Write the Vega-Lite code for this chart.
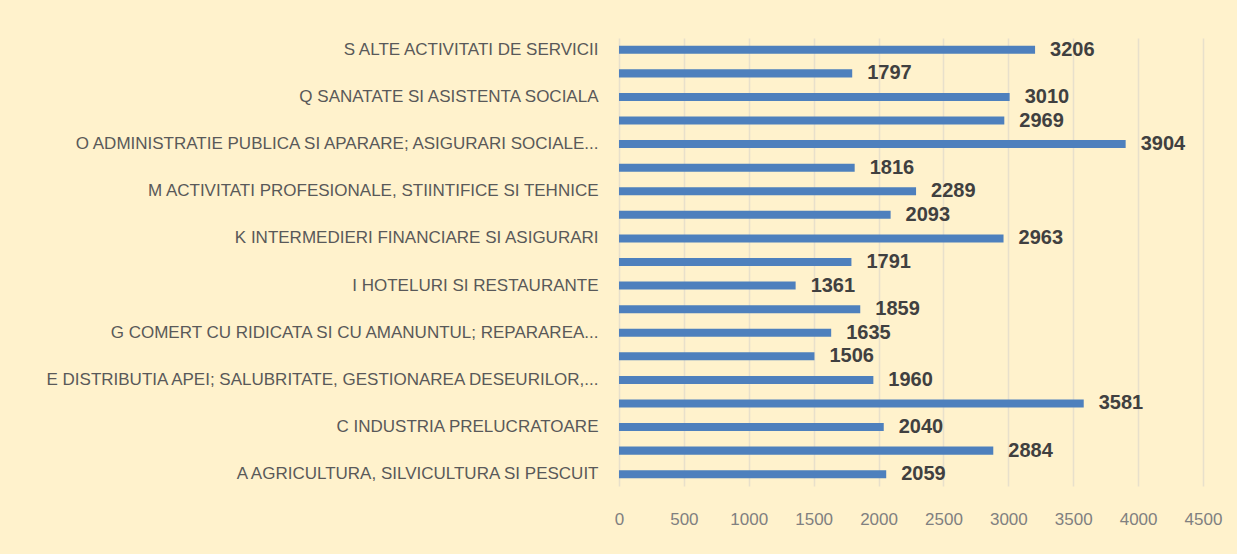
{
  "$schema": "https://vega.github.io/schema/vega-lite/v6.json",
  "autosize": "none",
  "width": 584,
  "height": 448,
  "padding": {"left": 619, "top": 38, "right": 34, "bottom": 68},
  "background": "#FFF2CC",
  "config": {"view": {"stroke": null}},
  "data": {
    "values": [
      {"sector": "S ALTE ACTIVITATI DE SERVICII", "value": 3206},
      {"sector": "R ACTIVITATI DE SPECTACOLE, CULTURALE SI RECREATIVE", "value": 1797},
      {"sector": "Q SANATATE SI ASISTENTA SOCIALA", "value": 3010},
      {"sector": "P INVATAMANT", "value": 2969},
      {"sector": "O ADMINISTRATIE PUBLICA SI APARARE; ASIGURARI SOCIALE...", "value": 3904},
      {"sector": "N ACTIVITATI DE SERVICII ADMINISTRATIVE SI SUPORT", "value": 1816},
      {"sector": "M ACTIVITATI PROFESIONALE, STIINTIFICE SI TEHNICE", "value": 2289},
      {"sector": "L TRANZACTII IMOBILIARE", "value": 2093},
      {"sector": "K INTERMEDIERI FINANCIARE SI ASIGURARI", "value": 2963},
      {"sector": "J INFORMATII SI COMUNICATII", "value": 1791},
      {"sector": "I HOTELURI SI RESTAURANTE", "value": 1361},
      {"sector": "H TRANSPORT SI DEPOZITARE", "value": 1859},
      {"sector": "G COMERT CU RIDICATA SI CU AMANUNTUL; REPARAREA...", "value": 1635},
      {"sector": "F CONSTRUCTII", "value": 1506},
      {"sector": "E DISTRIBUTIA APEI; SALUBRITATE, GESTIONAREA DESEURILOR,...", "value": 1960},
      {"sector": "D PRODUCTIA SI FURNIZAREA DE ENERGIE ELECTRICA SI TERMICA, GAZE...", "value": 3581},
      {"sector": "C INDUSTRIA PRELUCRATOARE", "value": 2040},
      {"sector": "B INDUSTRIA EXTRACTIVA", "value": 2884},
      {"sector": "A AGRICULTURA, SILVICULTURA SI PESCUIT", "value": 2059}
    ]
  },
  "encoding": {
    "y": {
      "field": "sector",
      "type": "nominal",
      "sort": null,
      "scale": {"paddingInner": 0.66, "paddingOuter": 0.33},
      "axis": {
        "title": null,
        "domain": false,
        "ticks": false,
        "labelPadding": 21,
        "labelFont": "Liberation Sans",
        "labelFontSize": 17,
        "labelColor": "#595959",
        "labelLimit": 620,
        "labelExpr": "indexof('SQOMKIGECA', substring(datum.value, 0, 1)) >= 0 ? datum.value : ''"
      }
    },
    "x": {
      "field": "value",
      "type": "quantitative",
      "scale": {"domain": [0, 4500], "nice": false},
      "axis": {
        "title": null,
        "values": [0, 500, 1000, 1500, 2000, 2500, 3000, 3500, 4000, 4500],
        "domain": false,
        "ticks": false,
        "grid": true,
        "gridColor": "#E8E0CB",
        "gridWidth": 1.5,
        "labelFlush": false,
        "labelOverlap": false,
        "labelPadding": 25,
        "labelFont": "Liberation Sans",
        "labelFontSize": 17,
        "labelColor": "#808080",
        "format": "d"
      }
    }
  },
  "layer": [
    {"mark": {"type": "bar", "color": "#4E80BD"}},
    {
      "mark": {
        "type": "text",
        "align": "left",
        "baseline": "middle",
        "dx": 15,
        "font": "Liberation Sans",
        "fontWeight": "bold",
        "fontSize": 20,
        "color": "#404040"
      },
      "encoding": {"text": {"field": "value", "type": "quantitative", "format": "d"}}
    }
  ]
}
